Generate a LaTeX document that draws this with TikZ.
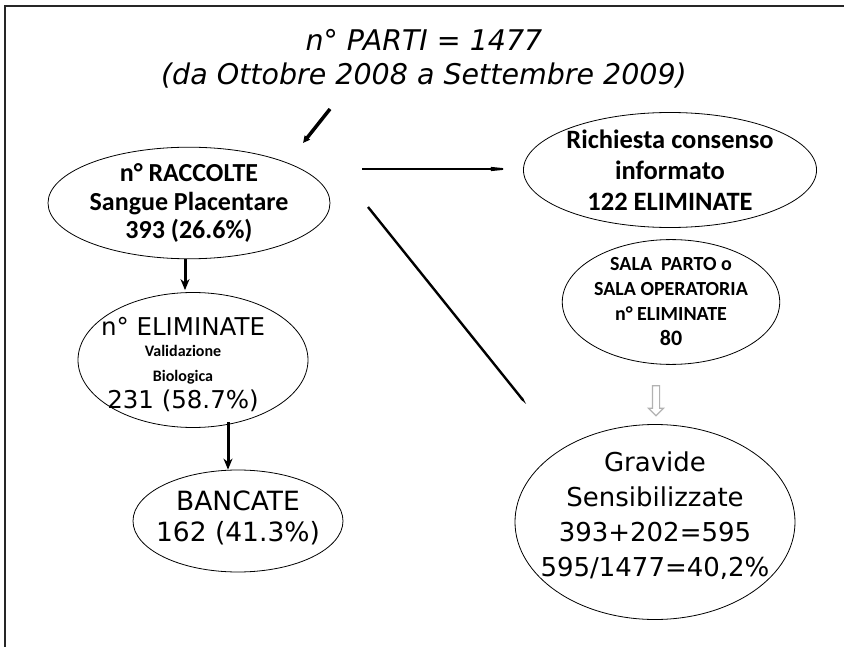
\documentclass[tikz,border=0pt]{standalone}
\usepackage{fontspec}
\usepackage{tikz}
\usetikzlibrary{arrows.meta,positioning,calc,shapes.geometric,shapes.arrows}
\newfontfamily\calibfont{Carlito}
\newfontfamily\comicfont{DejaVu Sans}

\begin{document}
\begin{tikzpicture}[x=1pt,y=-1pt,
  oval/.style={draw,ellipse,line width=0.8pt,inner sep=0pt,align=center,minimum width=#1},
  calib/.style={font=\calibfont\bfseries\fontsize{26}{28.5}\selectfont},
  comic/.style={align=center,font=\comicfont\fontsize{26}{31}\selectfont},
  down/.style={-{Stealth[length=11pt,width=9pt]},line width=3pt},
  longarr/.style={-{Stealth[length=30pt,width=6pt]},line width=1.8pt}]
\useasboundingbox (0,0) rectangle (844,647);
% frame
\draw[black!85,line width=1.6pt] (5,647) -- (5,6) -- (844,6);
% title
\node[font=\comicfont\itshape\fontsize{28.5}{34}\selectfont,align=center] (title) at (424,59)
  {n° PARTI = 1477\\(da Ottobre 2008 a Settembre 2009)};
% left column
\node[oval=282pt,minimum height=90pt,calib] (raccolte) at (189,203)
  {n° RACCOLTE\\Sangue Placentare\\393 (26.6\%)};
\node[oval=230pt,minimum height=135pt] (elim) at (193,360) {};
\node[comic,font=\comicfont\fontsize{24.5}{25}\selectfont] (elimtxt) at (183,365)
  {n° ELIMINATE\\[-4pt]
   {\calibfont\bfseries\fontsize{16}{12}\selectfont Validazione}\\
   {\calibfont\bfseries\fontsize{16}{12}\selectfont Biologica}\\[2pt]
   231 (58.7\%)};
\node[oval=210pt,minimum height=102pt] (bancate) at (238,521) {};
\node[comic,font=\comicfont\fontsize{26.5}{31}\selectfont] (banctxt) at (238,518)
  {BANCATE\\162 (41.3\%)};
\draw[down,shorten >=2pt] ([xshift=-4pt]raccolte.south) -- ([xshift=-4pt]raccolte.south |- elim.north);
\draw[down,shorten <=-6pt] ([xshift=-10pt]bancate.north |- elim.south) -- ([xshift=-10pt]bancate.north);
% right column
\node[oval=255pt,minimum height=115pt,font=\calibfont\bfseries\fontsize{26.5}{31}\selectfont] (consenso) at (670,170)
  {Richiesta consenso\\informato\\122 ELIMINATE};
\node[oval=208pt,minimum height=104pt,font=\calibfont\bfseries\fontsize{20}{25}\selectfont] (sala) at (671,302)
  {SALA\ \ PARTO o\\SALA OPERATORIA\\n° ELIMINATE\\{\fontsize{22}{20}\selectfont 80}};
\node[single arrow,draw=black!30,fill=white,line width=1.2pt,rotate=-90,inner sep=3pt,
  minimum height=30pt,single arrow head extend=4pt] (grey) at (656,399) {};
\node[oval=280pt,minimum height=195pt] (gravide) at (655,522) {};
\node[comic,font=\comicfont\fontsize{26}{35}\selectfont] (gravtxt) at (655,516)
  {Gravide\\Sensibilizzate\\393+202=595\\595/1477=40,2\%};
% free arrows
\coordinate (t1) at (330,109);
\coordinate (t2) at (303,143);
\draw[-{Triangle[length=7pt,width=6.5pt]},line width=3.5pt] (t1) -- (t2);
\coordinate (h1) at (362,169);
\coordinate (h2) at (512,169);
\draw[longarr] (h1) -- (h2);
\coordinate (d1) at (368,207);
\coordinate (d2) at (535,415);
\draw[longarr,line width=2.4pt,-{Stealth[length=40pt,width=5pt]}] (d1) -- (d2);
\end{tikzpicture}
\end{document}
